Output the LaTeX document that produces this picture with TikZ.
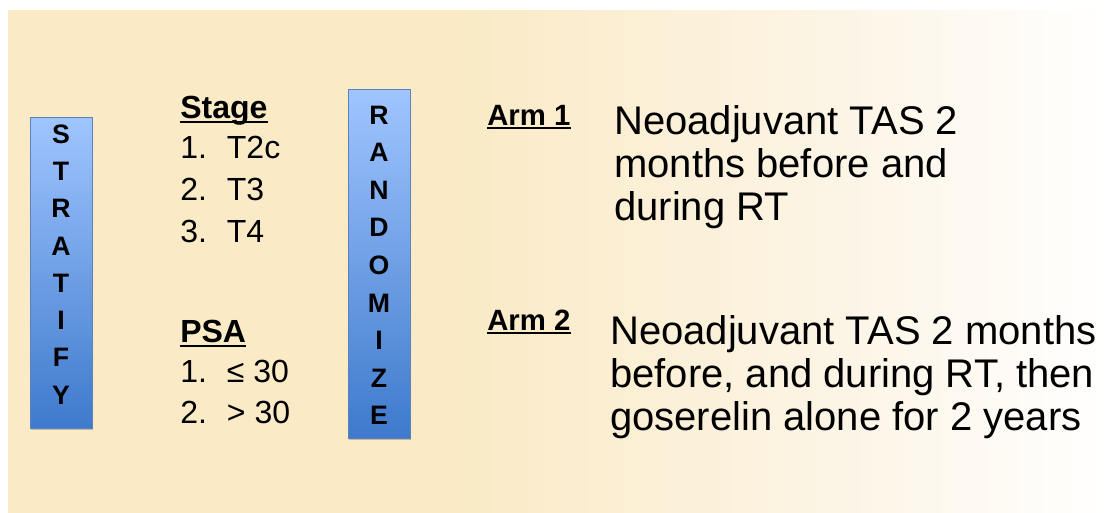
\documentclass[tikz,border=0pt]{standalone}
\usepackage{fontspec}
\setmainfont{Liberation Sans}
\usetikzlibrary{shadows}

\definecolor{bgcream}{RGB}{250,234,197}
\definecolor{bgmid}{RGB}{252,244,228}
\definecolor{boxtop}{RGB}{160,197,255}
\definecolor{boxbot}{RGB}{62,122,204}
\definecolor{boxline}{RGB}{92,130,188}

\pgfdeclarehorizontalshading{slidebg}{100bp}{color(0bp)=(bgcream); color(25bp)=(bgcream); color(45bp)=(bgcream); color(62bp)=(bgmid); color(75bp)=(white); color(100bp)=(white)}

\newcommand{\listno}[1]{\makebox[35pt][l]{#1}}

\begin{document}
\begin{tikzpicture}[x=0.75pt,y=-0.75pt,
	letterbox/.style={draw=boxline, line width=0.5pt, top color=boxtop, bottom color=boxbot,
		drop shadow={shadow xshift=1pt, shadow yshift=-1.5pt, opacity=0.45}},
	letter/.style={font=\fontsize{20}{20}\selectfont\bfseries, inner sep=0pt},
	head/.style={font=\fontsize{24}{24}\selectfont\bfseries, inner sep=0pt, anchor=base west},
	item/.style={font=\fontsize{24}{24}\selectfont, inner sep=0pt, anchor=base west},
	armlabel/.style={font=\fontsize{22}{22}\selectfont\bfseries, inner sep=0pt, anchor=base west},
	armtext/.style={font=\fontsize{30}{32}\selectfont, inner sep=0pt, anchor=base west, align=left},
	uline/.style={line width=1.5pt}
	]
	
	% Background
	\useasboundingbox (0,0) rectangle (1109,512);
	\fill[white] (0,0) rectangle (1109,512);
	\shade[shading=slidebg] (8,10) rectangle (1109,512);
	
	% Stratify
	\path[letterbox] (30,117) rectangle (92,428);
	\foreach \ch [count=\i from 0] in {S,T,R,A,T,I,F,Y}
	\node[letter] (s\i) at (61,134+37.3*\i) {\ch};
	
	% Stage
	\node[head] (stage) at (180,118) {Stage};
	\draw[uline] ([yshift=-3pt]stage.base west) -- ([yshift=-3pt]stage.base east);
	\node[item] (stage1) at (180,158) {\listno{1.}T2c};
	\node[item] (stage2) at (180,200) {\listno{2.}T3};
	\node[item] (stage3) at (180,242) {\listno{3.}T4};
	
	% PSA
	\node[head] (psa) at (180,342) {PSA};
	\draw[uline] ([yshift=-3pt]psa.base west) -- ([yshift=-3pt]psa.base east);
	\node[item] (psa1) at (180,382) {\listno{1.}≤ 30};
	\node[item] (psa2) at (180,423) {\listno{2.}> 30};
	
	% Randomize
	\path[letterbox] (348,89) rectangle (410,438);
	\foreach \ch [count=\i from 0] in {R,A,N,D,O,M,I,Z,E}
	\node[letter] (r\i) at (379,115+37.6*\i) {\ch};
	
	% Arms (base = last line)
	\node[armlabel] (arm1) at (487,125) {Arm 1};
	\draw[uline] ([yshift=-2.5pt]arm1.base west) -- ([yshift=-2.5pt]arm1.base east);
	\node[armtext] (arm1txt) at (614,220)
	{Neoadjuvant TAS 2\\months before and\\during RT};
	
	\node[armlabel] (arm2) at (487,330) {Arm 2};
	\draw[uline] ([yshift=-2.5pt]arm2.base west) -- ([yshift=-2.5pt]arm2.base east);
	\node[armtext] (arm2txt) at (610,430)
	{Neoadjuvant TAS 2 months\\before, and during RT, then\\goserelin alone for 2 years};
	
\end{tikzpicture}
\end{document}
